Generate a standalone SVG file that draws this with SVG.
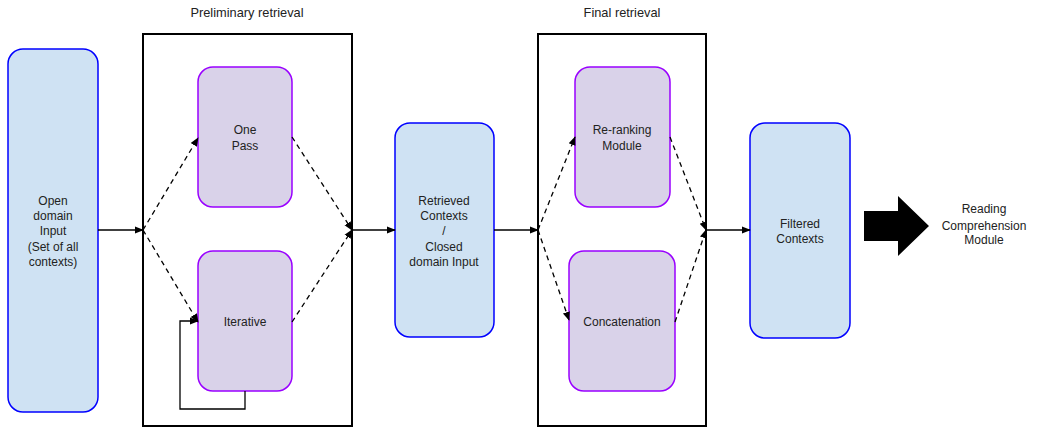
<svg xmlns="http://www.w3.org/2000/svg" width="1041" height="429" viewBox="0 0 1041 429">
<defs>
<style>
text{font-family:"Liberation Sans",Arial,sans-serif;font-size:12px;fill:#222;text-anchor:middle}
.title{font-size:12.8px}
.blue{fill:#cfe2f3;stroke:#0000ff;stroke-width:1.5}
.purple{fill:#d9d2e9;stroke:#9900ff;stroke-width:1.5}
.frame{fill:none;stroke:#000;stroke-width:2}
.solid{fill:none;stroke:#000;stroke-width:1.3}
.dash{fill:none;stroke:#000;stroke-width:1.3;stroke-dasharray:5,4}
</style>
<marker id="ah" viewBox="0 0 10 10" refX="9" refY="5" markerWidth="9" markerHeight="9" markerUnits="userSpaceOnUse" orient="auto">
<path d="M0,1 L10,5 L0,9 z" fill="#000"/>
</marker>
</defs>
<rect width="1041" height="429" fill="#fff"/>
<g id="prelim">
<rect class="frame" x="143" y="34" width="209" height="392"/>
<text class="title" x="247" y="17">Preliminary retrieval</text>
</g>
<g id="final">
<rect class="frame" x="538" y="34" width="168" height="392"/>
<text class="title" x="622" y="17">Final retrieval</text>
</g>
<g id="open">
<rect class="blue" x="8" y="49" width="90" height="363" rx="15"/>
<text x="53" y="205">Open</text>
<text x="53" y="220">domain</text>
<text x="53" y="235">Input</text>
<text x="53" y="251">(Set of all</text>
<text x="53" y="266">contexts)</text>
</g>
<g id="onepass">
<rect class="purple" x="198" y="67" width="94" height="140" rx="15"/>
<text x="245" y="134">One</text>
<text x="245" y="150">Pass</text>
</g>
<g id="iterative">
<rect class="purple" x="198" y="251" width="94" height="140" rx="15"/>
<text x="245" y="326">Iterative</text>
</g>
<g id="retrieved">
<rect class="blue" x="395" y="123" width="99" height="214" rx="15"/>
<text x="444" y="205">Retrieved</text>
<text x="444" y="220">Contexts</text>
<text x="444" y="235">/</text>
<text x="444" y="251">Closed</text>
<text x="444" y="266">domain Input</text>
</g>
<g id="rerank">
<rect class="purple" x="575" y="67" width="95" height="140" rx="15"/>
<text x="622" y="134">Re-ranking</text>
<text x="622" y="150">Module</text>
</g>
<g id="concat">
<rect class="purple" x="569" y="251" width="106" height="140" rx="15"/>
<text x="622" y="326">Concatenation</text>
</g>
<g id="filtered">
<rect class="blue" x="750" y="123" width="100" height="215" rx="15"/>
<text x="800" y="228">Filtered</text>
<text x="800" y="243">Contexts</text>
</g>
<g id="reading">
<text x="984" y="213">Reading</text>
<text x="984" y="230">Comprehension</text>
<text x="984" y="244">Module</text>
</g>
<g id="connectors">
<line class="solid" x1="98" y1="230" x2="143" y2="230" marker-end="url(#ah)"/>
<line class="dash" x1="143" y1="230" x2="198" y2="138" marker-end="url(#ah)"/>
<line class="dash" x1="143" y1="230" x2="198" y2="322" marker-end="url(#ah)"/>
<line class="dash" x1="292" y1="137" x2="352" y2="230" marker-end="url(#ah)"/>
<line class="dash" x1="292" y1="322" x2="352" y2="230" marker-end="url(#ah)"/>
<polyline class="solid" points="245,391 245,409 180,409 180,321 198,321" marker-end="url(#ah)"/>
<line class="solid" x1="352" y1="230" x2="395" y2="230" marker-end="url(#ah)"/>
<line class="solid" x1="494" y1="230" x2="538" y2="230" marker-end="url(#ah)"/>
<line class="dash" x1="538" y1="230" x2="575" y2="137" marker-end="url(#ah)"/>
<line class="dash" x1="538" y1="230" x2="569" y2="320" marker-end="url(#ah)"/>
<line class="dash" x1="670" y1="137" x2="706" y2="230" marker-end="url(#ah)"/>
<line class="dash" x1="675" y1="322" x2="706" y2="230" marker-end="url(#ah)"/>
<line class="solid" x1="706" y1="230" x2="750" y2="230" marker-end="url(#ah)"/>
<path d="M864,211 L898,211 L898,196 L929,226 L898,256 L898,241 L864,241 z" fill="#000"/>
</g>
</svg>
